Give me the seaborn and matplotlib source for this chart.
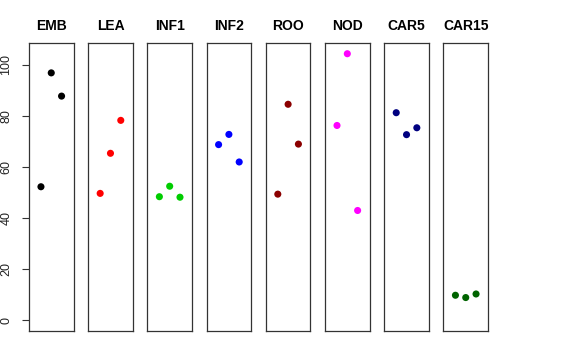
#!/usr/bin/env python3
"""Strip panels of three replicate values per sample."""

import matplotlib
matplotlib.use("Agg")
import matplotlib.pyplot as plt
import pandas as pd
import seaborn as sns

SAMPLES = ["EMB", "LEA", "INF1", "INF2", "ROO", "NOD", "CAR5", "CAR15"]
COLORS = ["#000000", "#FF0000", "#00CD00", "#0000FF",
          "#8B0000", "#FF00FF", "#000080", "#006400"]
REPLICATES = [1, 2, 3]

EMB = [52.3, 96.9, 87.8]
LEA = [49.7, 65.4, 78.3]
INF1 = [48.4, 52.5, 48.2]
INF2 = [68.8, 72.8, 62.0]
ROO = [49.4, 84.6, 69.0]
NOD = [76.3, 104.4, 43.0]
CAR5 = [81.3, 72.7, 75.4]
CAR15 = [9.8, 8.9, 10.3]
VALUES = [EMB, LEA, INF1, INF2, ROO, NOD, CAR5, CAR15]
Y_TICKS = [0, 20, 40, 60, 80, 100]

rows = []
for name, vals in zip(SAMPLES, VALUES):
    for rep, v in zip(REPLICATES, vals):
        rows.append({"sample": name, "rep": rep, "value": v})
df = pd.DataFrame(rows)

sns.set_theme(style="ticks", rc={"text.color": "black", "axes.labelcolor": "black",
                                 "xtick.color": "#333333", "ytick.color": "#333333"})
plt.rcParams["font.family"] = ["Liberation Sans", "DejaVu Sans"]

fig, axes = plt.subplots(1, len(SAMPLES), figsize=(5.76, 3.6), dpi=100)
fig.subplots_adjust(left=29 / 576, right=488 / 576, top=1 - 43 / 360,
                    bottom=1 - 331 / 360, wspace=0.33)

for i, (ax, name, color) in enumerate(zip(axes, SAMPLES, COLORS)):
    sub = df[df["sample"] == name]
    sns.scatterplot(data=sub, x="rep", y="value", color=color, s=26,
                    edgecolor="none", ax=ax, legend=False)
    ax.set_xlim(-0.16, 4.16)
    ax.set_ylim(-4.2, 108.6)
    ax.set_xlabel("")
    ax.set_ylabel("")
    ax.set_xticks([])
    ax.set_title(name, fontsize=10, fontweight="bold", color="black", pad=9)
    for sp in ax.spines.values():
        sp.set_visible(True)
        sp.set_color("#333333")
        sp.set_linewidth(0.9)
    if i == 0:
        ax.set_yticks(Y_TICKS)
        ax.tick_params(axis="y", which="both", left=True, length=5, width=0.8,
                       color="#333333", labelcolor="#222222", pad=7,
                       labelsize=9, labelrotation=90)
        for lab in ax.get_yticklabels():
            lab.set_va("center")
    else:
        ax.set_yticks([])

fig.savefig("out.png", dpi=100)
